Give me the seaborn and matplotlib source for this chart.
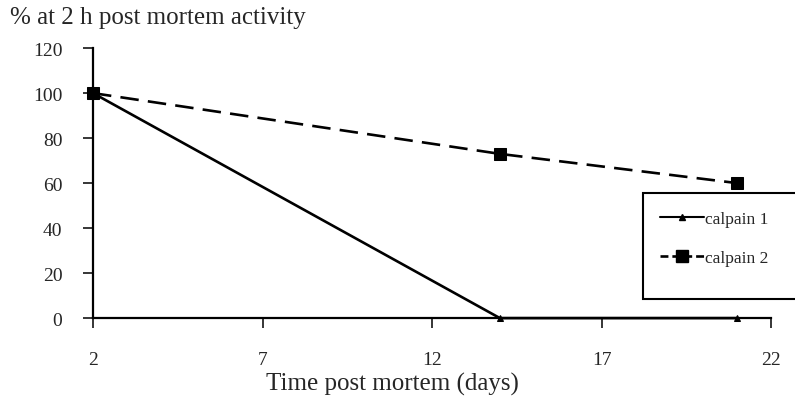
import matplotlib
matplotlib.use("Agg")
import matplotlib.pyplot as plt
import seaborn as sns
import pandas as pd
from matplotlib.lines import Line2D
from matplotlib.patches import Rectangle

days = [2, 14, 21]
calpain1 = [100, 0, 0]
calpain2 = [100, 73, 60]
series_names = ["calpain 1", "calpain 2"]
x_ticks = [2, 7, 12, 17, 22]
y_ticks = [0, 20, 40, 60, 80, 100, 120]

df = pd.DataFrame({
    "day": days * 2,
    "value": calpain1 + calpain2,
    "series": [series_names[0]] * len(days) + [series_names[1]] * len(days),
})

sns.set_style("ticks")
plt.rcParams["font.family"] = ["Liberation Serif", "DejaVu Serif"]

fig = plt.figure(figsize=(7.95, 4.06), dpi=100)
ax = fig.add_axes([0.117, 0.214, 0.853, 0.665])

sns.lineplot(data=df, x="day", y="value", style="series",
             markers={"calpain 1": "^", "calpain 2": "s"},
             dashes={"calpain 1": "", "calpain 2": (7, 3.5)},
             color="black", linewidth=1.9, markersize=8,
             markeredgecolor="black", ax=ax, legend=False, clip_on=False, zorder=3)
for ln in ax.get_lines():
    if ln.get_marker() == "^":
        ln.set_markersize(5)

ax.set_xlim(2, 22)
ax.set_ylim(0, 120)
ax.set_xticks(x_ticks)
ax.set_yticks(y_ticks)
ax.tick_params(axis="x", length=7, width=1.3, pad=17, labelsize=14)
ax.tick_params(axis="y", length=7, width=1.3, pad=15, labelsize=14)
sns.despine(ax=ax)
for s in ["left", "bottom"]:
    ax.spines[s].set_linewidth(1.6)
    ax.spines[s].set_color("black")

ax.set_xlabel("Time post mortem (days)", fontsize=18, labelpad=0)
ax.xaxis.set_label_coords(0.441, -0.2)
ax.set_ylabel("")
fig.text(0.013, 0.955, "% at 2 h post mortem activity", fontsize=18, ha="left", va="center")

handles = [
    Line2D([], [], color="black", marker="^", markersize=5, linewidth=1.5),
    Line2D([], [], color="black", marker="s", markersize=8, linewidth=1.9, dashes=(3, 1.5)),
]
ax.add_patch(Rectangle((0.811, 0.07), 0.3, 0.393, transform=ax.transAxes,
                       fill=True, facecolor="white", edgecolor="black",
                       linewidth=1.5, clip_on=False, zorder=4))
leg = ax.legend(handles, series_names, loc="upper left",
                bbox_to_anchor=(0.811, 0.463),
                frameon=False, fontsize=12.5,
                labelspacing=1.35, handlelength=2.5, handletextpad=0.1,
                borderpad=1.0, borderaxespad=0)
leg.set_zorder(5)

fig.savefig("out.png", dpi=100)
